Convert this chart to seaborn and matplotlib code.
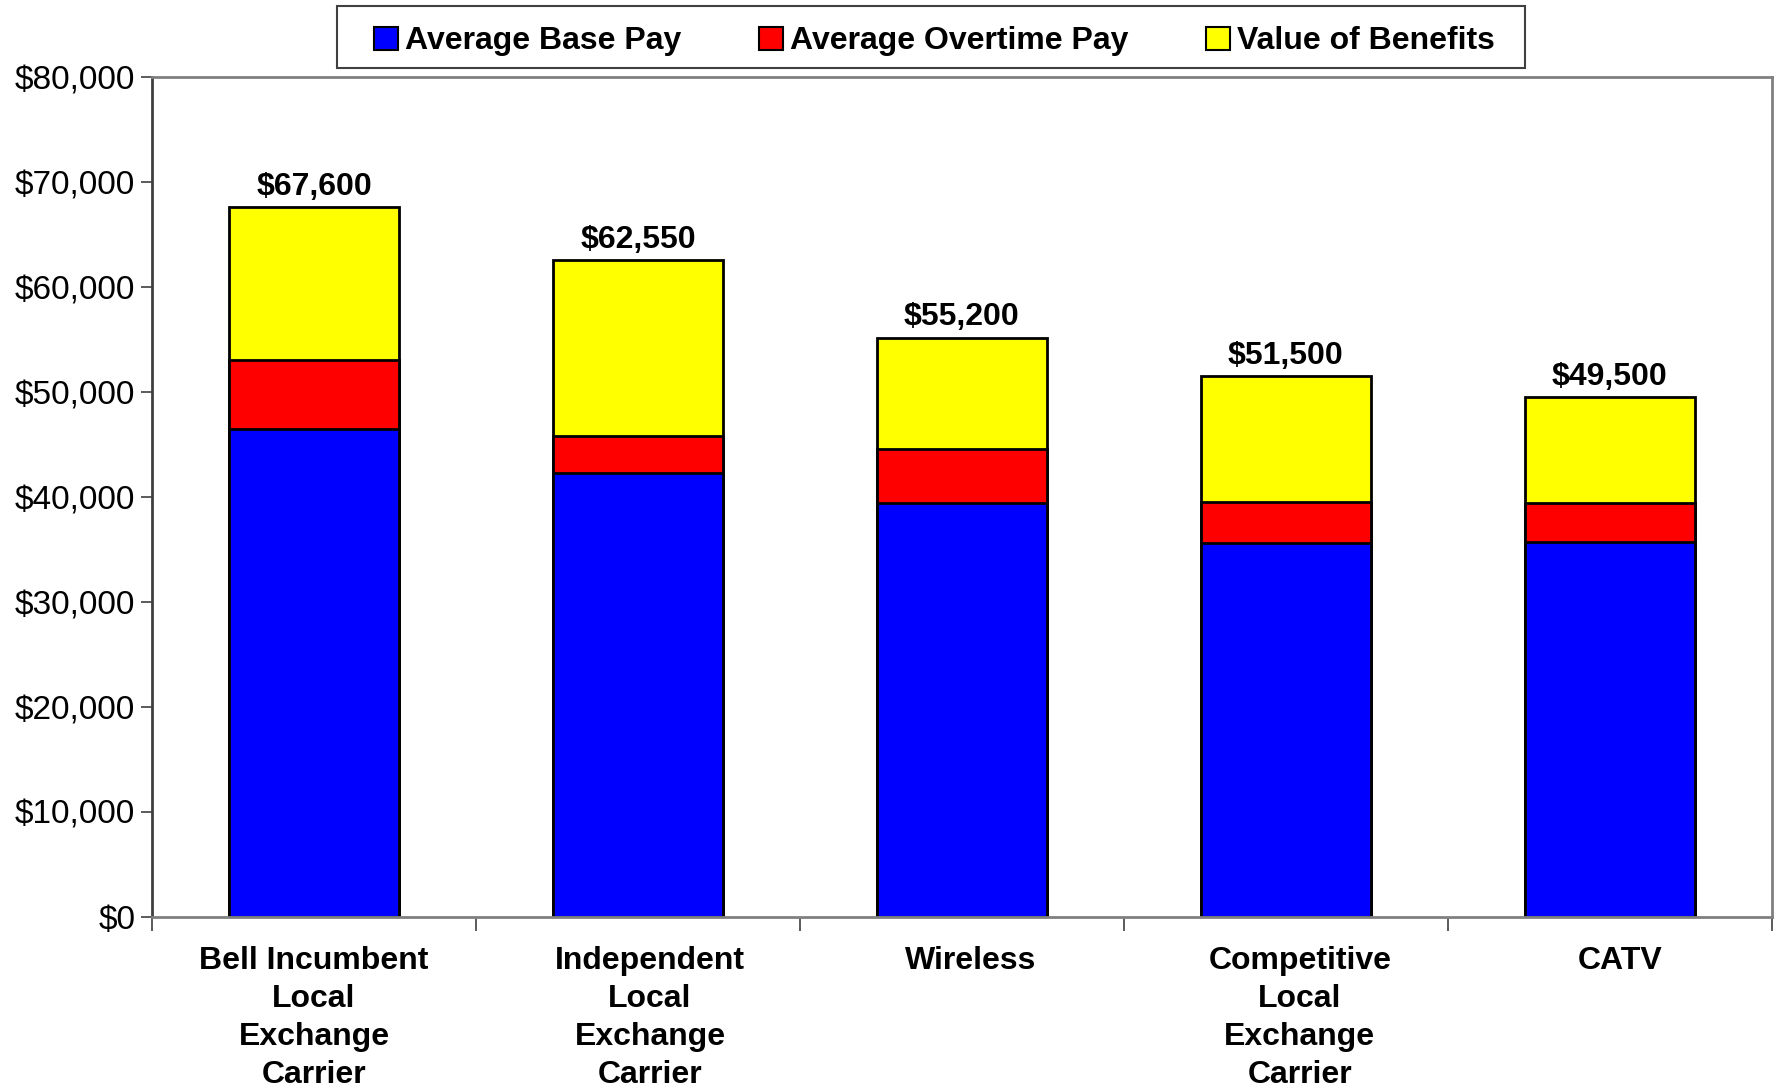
import pandas as pd
import seaborn as sns
import matplotlib.pyplot as plt
from matplotlib.patches import Patch, Rectangle
from matplotlib.ticker import FuncFormatter, FixedLocator
from matplotlib.transforms import ScaledTranslation

# Data
categories = ["Bell Incumbent\nLocal\nExchange\nCarrier",
              "Independent\nLocal\nExchange\nCarrier",
              "Wireless",
              "Competitive\nLocal\nExchange\nCarrier",
              "CATV"]
base_pay = [46500, 42300, 39400, 35600, 35700]
overtime_pay = [6600, 3500, 5200, 3900, 3700]
benefits = [14500, 16750, 10600, 12000, 10100]
series_names = ["Average Base Pay", "Average Overtime Pay", "Value of Benefits"]
series_colors = ["#0000FF", "#FF0000", "#FFFF00"]

df = pd.DataFrame({"category": categories, "base": base_pay,
                   "overtime": overtime_pay, "benefits": benefits})
df["base_ot"] = df["base"] + df["overtime"]
df["total"] = df["base_ot"] + df["benefits"]

sns.set_style("white")
plt.rcParams["font.family"] = ["Liberation Sans", "DejaVu Sans"]
plt.rcParams["text.color"] = "black"
plt.rcParams["xtick.color"] = "black"
plt.rcParams["ytick.color"] = "black"

fig = plt.figure(figsize=(17.8, 10.89), dpi=100)
ax = fig.add_axes([0.0854, 0.158, 0.91, 0.771])

bar_kw = dict(width=0.525, edgecolor="black", linewidth=2, saturation=1, ax=ax)
# stacked bars drawn as overlapping cumulative layers
sns.barplot(data=df, x="category", y="total", color=series_colors[2], **bar_kw)
sns.barplot(data=df, x="category", y="base_ot", color=series_colors[1], **bar_kw)
sns.barplot(data=df, x="category", y="base", color=series_colors[0], **bar_kw)

ax.bar_label(ax.containers[0], labels=[f"${v:,.0f}" for v in df["total"]],
             padding=4, fontsize=23, fontweight="bold", color="black")

ax.set_ylim(0, 80000)
ax.set_xlim(-0.5, len(categories) - 0.5)
ax.set_yticks(range(0, 80001, 10000))
ax.yaxis.set_major_formatter(FuncFormatter(lambda v, p: f"${v:,.0f}"))
ax.tick_params(axis="y", labelsize=24, length=8, width=1.2, color="#404040",
               left=True, pad=4, labelcolor="black")
ax.tick_params(axis="x", which="major", length=0, labelsize=23, pad=21, labelcolor="black")
ax.xaxis.set_minor_locator(FixedLocator([i - 0.5 for i in range(len(categories) + 1)]))
ax.tick_params(axis="x", which="minor", length=10, width=1.2, color="#404040", bottom=True)
label_shift = [0, 12, 9, 14, 10]
for lbl, dx in zip(ax.get_xticklabels(), label_shift):
    lbl.set_fontweight("bold")
    lbl.set_linespacing(1.34)
    lbl.set_transform(lbl.get_transform() + ScaledTranslation(dx / 100, 0, fig.dpi_scale_trans))
ax.set_xlabel("")
ax.set_ylabel("")

for side, sp in ax.spines.items():
    sp.set_visible(True)
    sp.set_color("#808080")
    sp.set_linewidth(2)
ax.spines["left"].set_color("#404040")

# legend box
fig.patches.append(Rectangle((0.1894, 0.9374), 0.6671, 0.0574, transform=fig.transFigure,
                             facecolor="white", edgecolor="#404040", linewidth=1.5))
handles = [Patch(facecolor=c, edgecolor="black", linewidth=1.5) for c in series_colors]
fig.legend(handles, series_names, loc="center", bbox_to_anchor=(0.525, 0.962),
           ncol=3, frameon=False, prop={"size": 23, "weight": "bold"},
           handlelength=0.75, handleheight=0.75, handletextpad=0.2,
           columnspacing=2.45, borderpad=0.3)

fig.savefig("out.png", dpi=100)
